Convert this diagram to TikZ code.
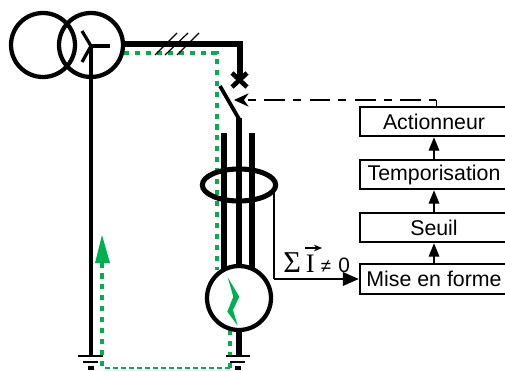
\documentclass[tikz,border=0pt]{standalone}
\usepackage{fontspec}
\setmainfont{Liberation Sans}
\newfontfamily\symbfont{Liberation Serif}
\usepackage{xcolor}
\usetikzlibrary{arrows.meta,shapes.geometric}
\definecolor{vertdefaut}{RGB}{0,176,80}
\tikzset{
    bloc/.style={draw=black,line width=1.7pt,fill=white,minimum width=111pt,minimum height=22pt,inner sep=0pt,font=\fontsize{16}{18}\selectfont},
    fleche/.style={line width=0.9pt,-{Triangle[length=10pt,width=8pt]}},
    defaut/.style={color=vertdefaut,line width=3pt,dash pattern=on 3.8pt off 4.4pt}
}
\begin{document}
\begin{tikzpicture}[line cap=butt,line join=miter,x=0.75pt,y=-0.75pt]
                \useasboundingbox (0,0) rectangle (505,370);
                % defaut
                \draw [defaut] (124,53)-- (216.5,53)-- (216.5,270);
                \draw [defaut] (230,330)-- (230,368);
                \draw [color=vertdefaut,line width=1.2pt,dash pattern=on 3.8pt off 2.2pt] (230,368)-- (102,368);
                \draw [defaut] (102,366)-- (102,263);
                \fill [color=vertdefaut] (102,235)-- (110,263)-- (95,263)-- cycle;
                % transformateur
                \draw [line width=3.4pt] (91,46)-- (91,356);
                \draw [line width=2.4pt] (82,31)-- (91,46)-- (82,62);
                \draw [line width=2.4pt] (91,46)-- (110,46);
                \node [circle,draw=black,line width=3.2pt,minimum size=48pt,inner sep=0pt] (primaire) at (43,45) {};
                \node [circle,draw=black,line width=3.2pt,minimum size=48pt,inner sep=0pt] (secondaire) at (91,45) {};
                % ligne
                \coordinate (coude) at (240,44);
                \coordinate (disjonction) at (240,81);
                \draw [line width=4.4pt] (secondaire.east)++(0,-1)-- (coude)-- (disjonction);
                \draw [line width=0.9pt] (155,55)-- (177,33);
                \draw [line width=0.9pt] (165,55)-- (188,33);
                \draw [line width=0.9pt] (177,55)-- (199,33);
                \draw [line width=3.5pt] (232,73)-- (247,87);
                \draw [line width=3.5pt] (247,73)-- (232,87);
                \draw [line width=2.8pt] (220,86)-- (239,119);
                % conducteurs
                \draw [line width=4.4pt] (239,118)-- (239,270);
                \draw [line width=4pt] (224,133)-- (224,270);
                \draw [line width=4pt] (252,133)-- (252,270);
                % tore
                \node [ellipse,draw=black,line width=3.8pt,minimum width=55pt,minimum height=24pt,inner sep=0pt] (tore) at (239,185) {};
                % recepteur
                \node [circle,draw=black,line width=3.2pt,fill=white,minimum size=48pt,inner sep=0pt] (recepteur) at (239,298) {};
                \fill [color=vertdefaut] (227.7,277.3)-- (239.3,296.7)-- (233,310)-- (237.7,325.7)-- (227.3,311.7)-- (233.3,296.7)-- cycle;
                \draw [line width=4.4pt] (recepteur.south)-- (239,356);
                % terres
                \draw [line width=1.9pt] (226,356)-- (250,356);
                \draw [line width=1.9pt] (230,362)-- (245,362);
                \draw [line width=2.6pt] (235,368)-- (241,368);
                \draw [line width=1.9pt] (78,356)-- (103,356);
                \draw [line width=1.9pt] (83,362)-- (98,362);
                \draw [line width=2.6pt] (88,368)-- (94,368);
                % blocs
                \node [bloc] (actionneur) at (434,121.5) {Actionneur};
                \node [bloc] (temporisation) at (434,174.5) {Temporisation};
                \node [bloc] (seuil) at (434,227.5) {Seuil};
                \node [bloc] (miseenforme) at (434,279) {Mise en forme};
                \draw [fleche] (miseenforme)-- (seuil);
                \draw [fleche] (seuil)-- (temporisation);
                \draw [fleche] (temporisation)-- (actionneur);
                \coordinate (sortie) at (274,190);
                \coordinate (angle) at (274,279);
                \draw [line width=1.8pt] (sortie)-- (angle);
                \draw [line width=1.8pt,-{Triangle[length=12pt,width=10pt]}] (angle)-- (miseenforme.west);
                \coordinate (renvoi) at (436,100);
                \coordinate (commande) at (234,100);
                \draw [line width=0.7pt] ([xshift=1.5pt]actionneur.north)-- (renvoi);
                \draw [line width=0.8pt,dash pattern=on 15.5pt off 6pt on 6pt off 6.5pt,dash phase=18.5pt,{Stealth[length=11pt,width=10pt]}-] (commande)-- (renvoi);
                \node [anchor=base west,inner sep=0pt] (somme) at (283,272) {{\symbfont\fontsize{22.7}{23}\selectfont Σ}\hspace{3.75pt}{\symbfont\fontsize{20}{20}\selectfont I}\hspace{4.5pt}{\fontsize{14}{14}\selectfont ≠}\hspace{5.5pt}{\fontsize{15.6}{16}\selectfont 0}};
                \coordinate (vecteurdebut) at (305,248);
                \coordinate (vecteurfin) at (322,248);
                \draw [line width=0.8pt,-{Stealth[length=6pt,width=5pt]}] (vecteurdebut)-- (vecteurfin);
\end{tikzpicture}
\end{document}
